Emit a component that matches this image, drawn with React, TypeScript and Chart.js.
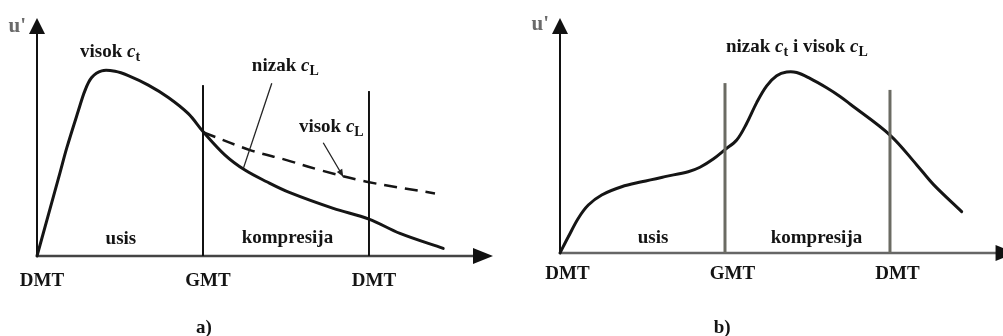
import { useEffect, useRef } from "react";
import { Chart, registerables } from "chart.js";
Chart.register(...registerables);

// ---- shared axis data ----
const crankTicks = [0, 180, 360];
const crankLabels = ["DMT", "GMT", "DMT"];

// ---- panel a) ----
const curveAX = [0, 24.9, 32.2, 44.8, 52, 59.3, 70.2, 84.6, 99, 120.7, 142.4, 164.1, 180, 203.9, 225.5, 249.1, 274.3, 321.3, 360, 393.6, 440.5];
const curveAY = [0, 34.9, 45.3, 61, 69.5, 75, 77.8, 77.6, 75.8, 71.8, 66.6, 59.8, 52.3, 42.4, 36.1, 31.2, 26.6, 20.0, 15.5, 9.5, 3.2];
const dashedAX = [180, 231, 270.7, 306.9, 357.5, 431.6];
const dashedAY = [52, 44.5, 40.3, 36.1, 31.2, 26.3];
const strokeTopA = [71.8, 69.3];

// ---- panel b) ----
const curveBX = [0, 9.1, 20, 30.9, 45.5, 67.3, 89.1, 114.5, 139.9, 152.7, 167.2, 180, 192.8, 203.7, 214.6, 225.5, 236.4, 247.3, 258.2, 272.7, 290.9, 305.5, 316.4, 360, 389, 407.3, 438.2];
const curveBY = [0, 6.9, 14.8, 20.4, 24.7, 28.2, 30.3, 32.5, 34.6, 36.5, 40, 44, 48.1, 55.2, 64, 71.1, 75.4, 77, 76.8, 74.3, 70.3, 66.6, 63.4, 50.2, 37.6, 29.2, 17.6];
const strokeTopB = [72.3, 69.4];

type Seg = [string, "b" | "i" | "s"];
type Label = { segs: Seg[]; x: number; y: number; align: "left" | "center" };
type Leader = { x1: number; y1: number; x2: number; y2: number; head: boolean };

const labelsA: Label[] = [
  { segs: [["visok ", "b"], ["c", "i"], ["t", "s"]], x: 46.6, y: 83.6, align: "left" },
  { segs: [["nizak ", "b"], ["c", "i"], ["L", "s"]], x: 233, y: 77.9, align: "left" },
  { segs: [["visok ", "b"], ["c", "i"], ["L", "s"]], x: 284, y: 52.1, align: "left" },
  { segs: [["usis", "b"]], x: 91, y: 5.0, align: "center" },
  { segs: [["kompresija", "b"]], x: 271.6, y: 5.6, align: "center" },
  { segs: [["a)", "b"]], x: 181, y: -32.4, align: "center" },
];
const leadersA: Leader[] = [
  { x1: 254.6, y1: 72.6, x2: 223.8, y2: 36.8, head: false },
  { x1: 310.4, y1: 47.6, x2: 332.1, y2: 33.3, head: true },
];

const labelsB: Label[] = [
  { segs: [["nizak ", "b"], ["c", "i"], ["t", "s"], [" i visok ", "b"], ["c", "i"], ["L", "s"]], x: 181.1, y: 85.5, align: "left" },
  { segs: [["usis", "b"]], x: 101.5, y: 4.3, align: "center" },
  { segs: [["kompresija", "b"]], x: 279.8, y: 4.3, align: "center" },
  { segs: [["b)", "b"]], x: 177, y: -34, align: "center" },
];
const leadersB: Leader[] = [];

const FONT = '"Liberation Serif", "DejaVu Serif", serif';
const SIZE = 19;

function segFont(k: string) {
  if (k === "i") return `italic bold ${SIZE}px ${FONT}`;
  if (k === "s") return `bold ${Math.round(SIZE * 0.72)}px ${FONT}`;
  return `bold ${SIZE}px ${FONT}`;
}

function drawRich(ctx: CanvasRenderingContext2D, segs: Seg[], x: number, y: number, align: string) {
  let total = 0;
  const widths = segs.map(([t, k]) => {
    ctx.font = segFont(k);
    const w = ctx.measureText(t).width;
    total += w;
    return w;
  });
  let cx = align === "center" ? x - total / 2 : x;
  ctx.textAlign = "left";
  ctx.textBaseline = "alphabetic";
  segs.forEach(([t, k], i) => {
    ctx.font = segFont(k);
    ctx.fillText(t, cx, k === "s" ? y + 4 : y);
    cx += widths[i];
  });
}

const sketchPlugin = {
  id: "sketch",
  beforeDatasetsDraw(chart: any) {
    const o = chart.options.plugins.sketch;
    const { ctx, chartArea } = chart;
    const { left, top, bottom } = chartArea;
    const xs = chart.scales.x;
    const tipX = xs.getPixelForValue(o.arrowX);
    ctx.save();
    // y axis
    ctx.strokeStyle = "#111";
    ctx.fillStyle = "#111";
    ctx.lineWidth = 2;
    ctx.beginPath();
    ctx.moveTo(left, bottom + 1);
    ctx.lineTo(left, top + 12);
    ctx.stroke();
    ctx.beginPath();
    ctx.moveTo(left, top);
    ctx.lineTo(left - 8, top + 16);
    ctx.lineTo(left + 8, top + 16);
    ctx.closePath();
    ctx.fill();
    // x axis
    ctx.strokeStyle = o.xAxisColor;
    ctx.lineWidth = 2.5;
    ctx.beginPath();
    ctx.moveTo(left, bottom);
    ctx.lineTo(tipX - 16, bottom);
    ctx.stroke();
    ctx.fillStyle = "#111";
    ctx.beginPath();
    ctx.moveTo(tipX, bottom);
    ctx.lineTo(tipX - 20, bottom - 8);
    ctx.lineTo(tipX - 20, bottom + 8);
    ctx.closePath();
    ctx.fill();
    ctx.restore();
  },
  afterDatasetsDraw(chart: any) {
    const o = chart.options.plugins.sketch;
    const { ctx, chartArea } = chart;
    const { left, top, bottom } = chartArea;
    const xs = chart.scales.x;
    const ys = chart.scales.y;
    ctx.save();
    // u' label
    ctx.fillStyle = "#6a6a6a";
    ctx.font = `bold 21px ${FONT}`;
    ctx.textAlign = "right";
    ctx.textBaseline = "alphabetic";
    ctx.fillText("u'", left - 11, top + o.uDy);
    // tick labels
    ctx.fillStyle = "#141414";
    ctx.textAlign = "center";
    crankTicks.forEach((v, i) => {
      ctx.font = `bold ${SIZE}px ${FONT}`;
      ctx.fillText(crankLabels[i], xs.getPixelForValue(v) + o.tickDx, bottom + o.tickDy);
    });
    // annotations
    (o.labels as Label[]).forEach((l) => {
      drawRich(ctx, l.segs, xs.getPixelForValue(l.x), ys.getPixelForValue(l.y), l.align);
    });
    ctx.strokeStyle = "#222";
    ctx.fillStyle = "#222";
    ctx.lineWidth = 1.3;
    (o.leaders as Leader[]).forEach((d) => {
      const x1 = xs.getPixelForValue(d.x1), y1 = ys.getPixelForValue(d.y1);
      const x2 = xs.getPixelForValue(d.x2), y2 = ys.getPixelForValue(d.y2);
      ctx.beginPath();
      ctx.moveTo(x1, y1);
      ctx.lineTo(x2, y2);
      ctx.stroke();
      if (d.head) {
        const a = Math.atan2(y2 - y1, x2 - x1);
        ctx.beginPath();
        ctx.moveTo(x2, y2);
        ctx.lineTo(x2 - 8 * Math.cos(a - 0.4), y2 - 8 * Math.sin(a - 0.4));
        ctx.lineTo(x2 - 8 * Math.cos(a + 0.4), y2 - 8 * Math.sin(a + 0.4));
        ctx.closePath();
        ctx.fill();
      }
    });
    ctx.restore();
  },
};

function pts(xs: number[], ys: number[]) {
  return xs.map((x, i) => ({ x, y: ys[i] }));
}

function vline(x: number, top: number, color: string, w: number) {
  return {
    data: [{ x, y: 0 }, { x, y: top }],
    borderColor: color,
    borderWidth: w,
    pointRadius: 0,
    showLine: true,
    tension: 0,
    clip: false as any,
  };
}

type PanelCfg = {
  datasets: any[];
  xMax: number;
  arrowX: number;
  padding: { left: number; right: number; top: number; bottom: number };
  labels: Label[];
  leaders: Leader[];
  xAxisColor: string;
  tickDx: number;
  tickDy: number;
  uDy: number;
};

function Panel({ cfg, width, left }: { cfg: PanelCfg; width: number; left: number }) {
  const ref = useRef<HTMLCanvasElement>(null);
  useEffect(() => {
    if (!ref.current) return;
    const chart = new Chart(ref.current, {
      type: "scatter",
      data: { datasets: cfg.datasets },
      plugins: [sketchPlugin],
      options: {
        responsive: false,
        animation: false,
        events: [],
        layout: { padding: cfg.padding },
        scales: {
          x: { type: "linear", min: 0, max: cfg.xMax, display: false },
          y: { type: "linear", min: 0, max: 100, display: false },
        },
        plugins: {
          legend: { display: false },
          tooltip: { enabled: false },
          sketch: {
            arrowX: cfg.arrowX,
            labels: cfg.labels,
            leaders: cfg.leaders,
            xAxisColor: cfg.xAxisColor,
            tickDx: cfg.tickDx,
            tickDy: cfg.tickDy,
            uDy: cfg.uDy,
          },
        } as any,
      },
    });
    return () => chart.destroy();
  }, []);
  return (
    <canvas
      ref={ref}
      width={width}
      height={336}
      style={{ position: "absolute", left, top: 0, width, height: 336 }}
    />
  );
}

const curveStyle = {
  borderColor: "#151515",
  borderWidth: 3,
  pointRadius: 0,
  showLine: true,
  tension: 0.35,
  borderJoinStyle: "round" as const,
  borderCapStyle: "round" as const,
  clip: false as any,
};

const panelA: PanelCfg = {
  datasets: [
    vline(crankTicks[1], strokeTopA[0], "#111", 2),
    vline(crankTicks[2], strokeTopA[1], "#111", 2),
    { ...curveStyle, data: pts(dashedAX, dashedAY), borderWidth: 2.5, borderDash: [13, 8], borderCapStyle: "butt" },
    { ...curveStyle, data: pts(curveAX, curveAY) },
  ],
  xMax: 494.5,
  arrowX: 494.5,
  padding: { left: 37, right: 7, top: 18, bottom: 80 },
  labels: labelsA,
  leaders: leadersA,
  xAxisColor: "#444",
  tickDx: 5,
  tickDy: 30,
  uDy: 14,
};

const panelB: PanelCfg = {
  datasets: [
    vline(crankTicks[1], strokeTopB[0], "#6b6b63", 3),
    vline(crankTicks[2], strokeTopB[1], "#6b6b63", 3),
    { ...curveStyle, data: pts(curveBX, curveBY) },
  ],
  xMax: 483.3,
  arrowX: 497,
  padding: { left: 60, right: 0, top: 18, bottom: 83 },
  labels: labelsB,
  leaders: leadersB,
  xAxisColor: "#666",
  tickDx: 7.5,
  tickDy: 26,
  uDy: 12,
};

export default function App() {
  return (
    <div style={{ position: "fixed", left: 0, top: 0, width: 1003, height: 336, background: "#fff", overflow: "hidden" }}>
      <Panel cfg={panelA} width={500} left={0} />
      <Panel cfg={panelB} width={503} left={500} />
    </div>
  );
}
